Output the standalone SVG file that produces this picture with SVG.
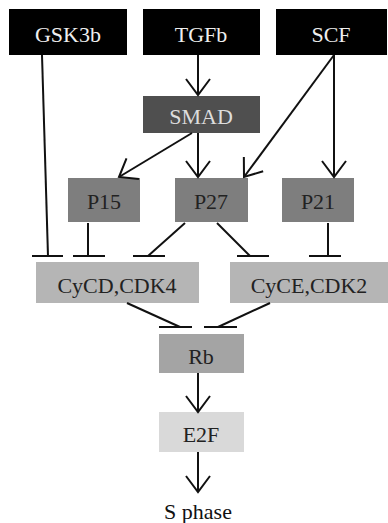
<svg xmlns="http://www.w3.org/2000/svg" width="388" height="523" viewBox="0 0 388 523">
<defs>
<style>
.lbl{font-family:"Liberation Serif","Times New Roman",serif;font-size:22px;text-anchor:middle}
.blk{fill:#000}
.smad{fill:#4f4f4f}
.p{fill:#7e7e7e}
.cy{fill:#b5b5b5}
.rb{fill:#a4a4a4}
.e2f{fill:#d9d9d9}
.ln{stroke:#111;stroke-width:2;fill:none}
</style>
<marker id="arr" markerUnits="userSpaceOnUse" markerWidth="40" markerHeight="40" refX="20" refY="20" orient="auto" viewBox="0 0 40 40">
<path d="M4,8 L20,20 L4,32" fill="none" stroke="#111" stroke-width="2"/>
</marker>
</defs>
<rect width="388" height="523" fill="#fff"/>
<g id="GSK3b"><rect class="blk" x="9" y="9" width="118" height="46"/><text class="lbl" x="68" y="42" fill="#eee">GSK3b</text></g>
<g id="TGFb"><rect class="blk" x="143" y="9" width="117" height="46"/><text class="lbl" x="201" y="42" fill="#eee">TGFb</text></g>
<g id="SCF"><rect class="blk" x="276" y="9" width="111" height="46"/><text class="lbl" x="331" y="42" fill="#eee">SCF</text></g>
<g id="SMAD"><rect class="smad" x="143" y="96" width="117" height="37"/><text class="lbl" x="201" y="124" fill="#ddd">SMAD</text></g>
<g id="P15"><rect class="p" x="68" y="178" width="72" height="44"/><text class="lbl" x="104" y="209" fill="#222">P15</text></g>
<g id="P27"><rect class="p" x="175" y="178" width="73" height="44"/><text class="lbl" x="211" y="209" fill="#222">P27</text></g>
<g id="P21"><rect class="p" x="282" y="178" width="72" height="44"/><text class="lbl" x="318" y="209" fill="#222">P21</text></g>
<g id="CyCD"><rect class="cy" x="36" y="262" width="163" height="41"/><text class="lbl" x="117" y="293" fill="#222">CyCD,CDK4</text></g>
<g id="CyCE"><rect class="cy" x="230" y="262" width="158" height="41"/><text class="lbl" x="309" y="293" fill="#222">CyCE,CDK2</text></g>
<g id="Rb"><rect class="rb" x="159" y="334" width="85" height="39"/><text class="lbl" x="201" y="364" fill="#222">Rb</text></g>
<g id="E2F"><rect class="e2f" x="159" y="412" width="85" height="40"/><text class="lbl" x="201" y="442" fill="#222">E2F</text></g>
<g id="Sphase"><text class="lbl" x="198" y="519" fill="#111">S phase</text></g>
<g id="connectors" class="ln">
<line x1="198" y1="55" x2="198" y2="95" marker-end="url(#arr)"/>
<line x1="192" y1="133" x2="119" y2="177" marker-end="url(#arr)"/>
<line x1="198" y1="133" x2="198" y2="177" marker-end="url(#arr)"/>
<line x1="334" y1="55" x2="244" y2="177" marker-end="url(#arr)"/>
<line x1="334" y1="55" x2="334" y2="177" marker-end="url(#arr)"/>
<line x1="198" y1="373" x2="198" y2="412" marker-end="url(#arr)"/>
<line x1="198" y1="452" x2="198" y2="492" marker-end="url(#arr)"/>
<line x1="42" y1="55" x2="48" y2="256"/><line x1="32" y1="256" x2="63" y2="256"/>
<line x1="88" y1="223" x2="88" y2="256"/><line x1="73" y1="256" x2="105" y2="256"/>
<line x1="185" y1="223" x2="148" y2="256"/><line x1="133" y1="256" x2="165" y2="256"/>
<line x1="217" y1="223" x2="250" y2="256"/><line x1="237" y1="256" x2="269" y2="256"/>
<line x1="328" y1="223" x2="328" y2="256"/><line x1="309" y1="256" x2="341" y2="256"/>
<line x1="127" y1="303" x2="180" y2="327"/><line x1="159" y1="327" x2="192" y2="327"/>
<line x1="270" y1="303" x2="218" y2="327"/><line x1="204" y1="327" x2="237" y2="327"/>
</g>
</svg>
